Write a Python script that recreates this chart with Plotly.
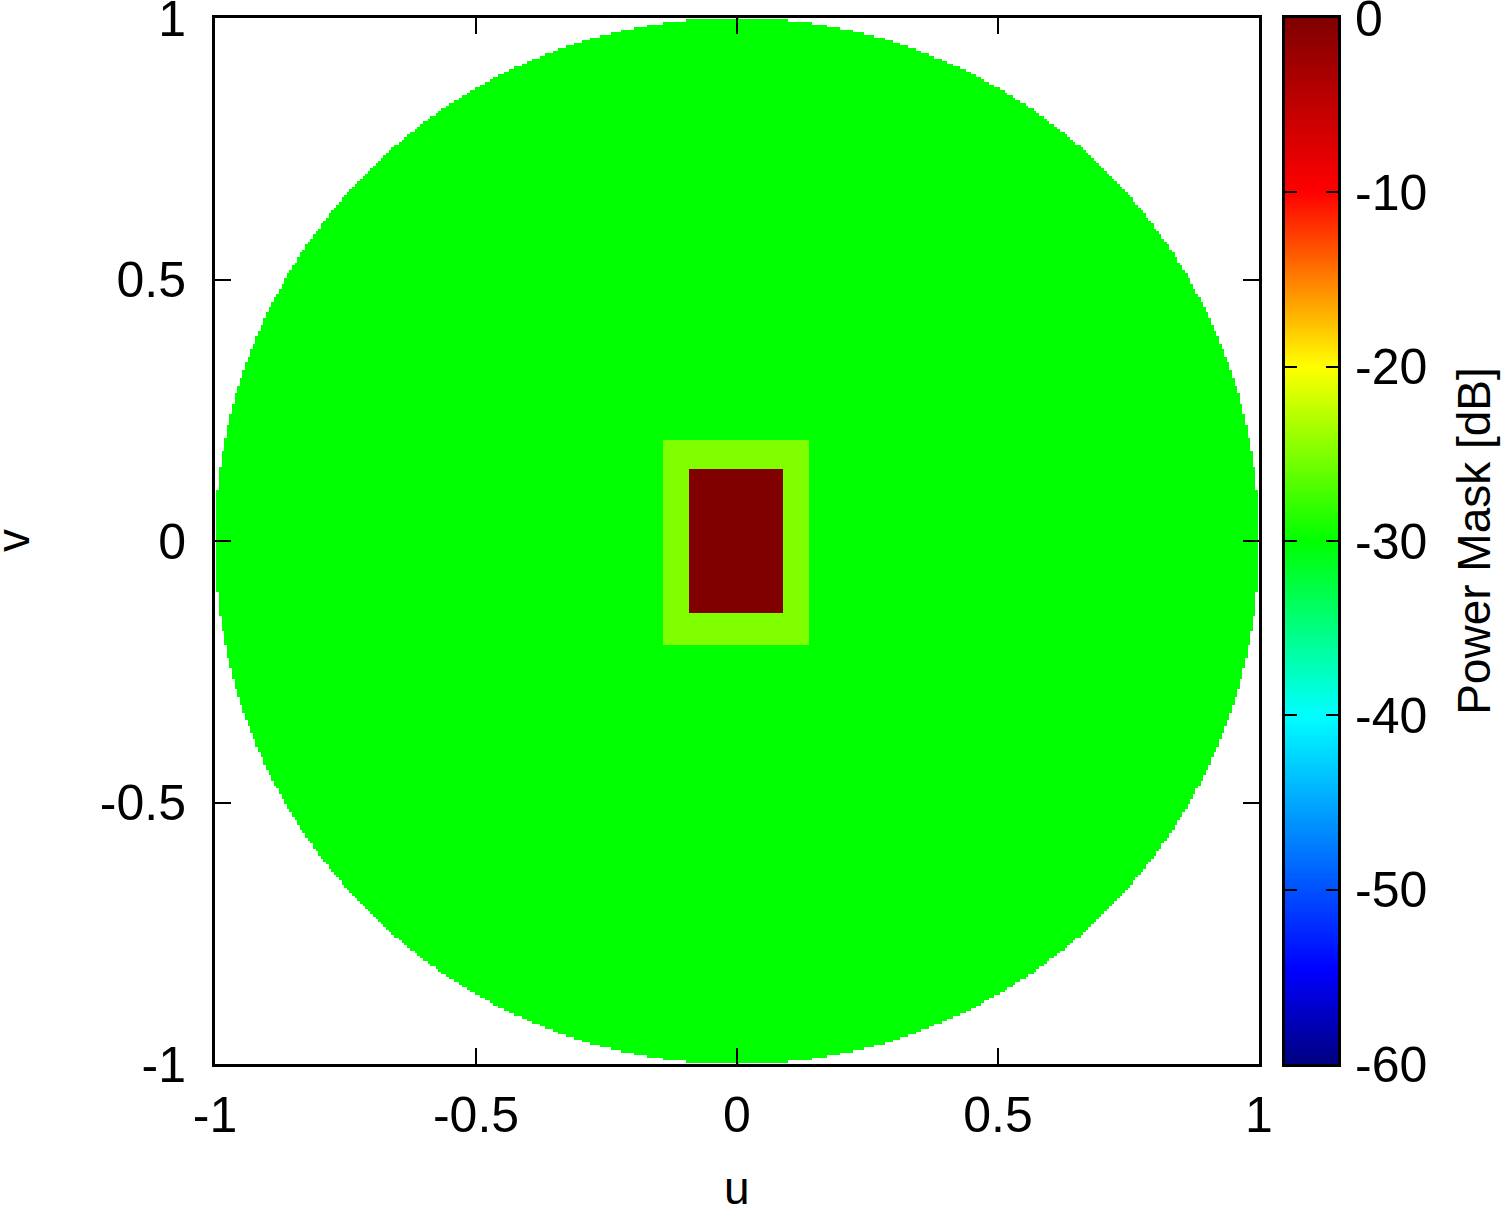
import numpy as np
import plotly.graph_objects as go

# ---- data: power mask regions (dB) ----
grid_u = np.linspace(-1, 1, 401)
grid_v = np.linspace(-1, 1, 401)
visible_level = -30.0          # inside unit circle
outer_rect_u = [-0.14, 0.135]
outer_rect_v = [-0.195, 0.19]
outer_rect_level = -25.0
inner_rect_u = [-0.09, 0.085]
inner_rect_v = [-0.135, 0.135]
inner_rect_level = 0.0
cb_min, cb_max = -60, 0
axis_ticks = [-1, -0.5, 0, 0.5, 1]
axis_ticktext = ["-1", "-0.5", "0", "0.5", "1"]
cb_ticks = [-60, -50, -40, -30, -20, -10, 0]
cb_ticktext = ["-60", "-50", "-40", "-30", "-20", "-10", "0"]

U, V = np.meshgrid(grid_u, grid_v)
Z = np.full(U.shape, np.nan)
Z[U**2 + V**2 <= 1.0] = visible_level
m = (U >= outer_rect_u[0]) & (U <= outer_rect_u[1]) & (V >= outer_rect_v[0]) & (V <= outer_rect_v[1])
Z[m] = outer_rect_level
m = (U >= inner_rect_u[0]) & (U <= inner_rect_u[1]) & (V >= inner_rect_v[0]) & (V <= inner_rect_v[1])
Z[m] = inner_rect_level

colorscale = [
    [0.0, "#000080"],
    [0.09, "#0000FF"],
    [1/3, "#00FFFF"],
    [0.5, "#00FF00"],
    [2/3, "#FFFF00"],
    [5/6, "#FF0000"],
    [1.0, "#800000"],
]

cb_vals = np.linspace(cb_min, cb_max, 601)

FONT = "Liberation Sans, Arial, Helvetica, sans-serif"

fig = go.Figure()
fig.add_trace(go.Heatmap(
    x=grid_u, y=grid_v, z=Z, zmin=cb_min, zmax=cb_max,
    colorscale=colorscale, showscale=False, zsmooth=False,
    hoverongaps=False, xaxis="x", yaxis="y"))
fig.add_trace(go.Heatmap(
    x=[0], y=cb_vals, z=cb_vals.reshape(-1, 1), zmin=cb_min, zmax=cb_max,
    colorscale=colorscale, showscale=False, xaxis="x2", yaxis="y2"))

W, H = 1501, 1208
l, t = 215, 18
b = H - 1064
r = W - 1338
pw = W - l - r
main_end = (1259 - 215) / pw
cb_start = (1285 - 215) / pw

axis_common = dict(
    showline=True, linewidth=3, linecolor="black", mirror="ticks",
    ticks="inside", ticklen=16, tickwidth=2, tickcolor="black",
    showgrid=False, zeroline=False, automargin=False,
    ticklabeloverflow="allow",
    tickfont=dict(family=FONT, size=50, color="black"),
)

fig.update_layout(
    width=W, height=H,
    margin=dict(l=l, r=r, t=t, b=b, autoexpand=False),
    paper_bgcolor="white", plot_bgcolor="white",
    font=dict(family=FONT, size=50, color="black"),
    xaxis=dict(domain=[0, main_end], range=[-1, 1], tickvals=axis_ticks, ticktext=axis_ticktext,
               ticklabelstandoff=5, anchor="y", **axis_common),
    yaxis=dict(domain=[0, 1], range=[-1, 1], tickvals=axis_ticks, ticktext=axis_ticktext,
               ticklabelstandoff=16, anchor="x", **axis_common),
    xaxis2=dict(domain=[cb_start, 1], range=[-0.5, 0.5], showline=True, linewidth=3,
                linecolor="black", mirror=True, showticklabels=False, ticks="",
                showgrid=False, zeroline=False, anchor="y2", automargin=False),
    yaxis2=dict(domain=[0, 1], range=[cb_min, cb_max], tickvals=cb_ticks, ticktext=cb_ticktext,
                side="right", anchor="x2", automargin=False, ticklabeloverflow="allow",
                title=dict(text="Power Mask [dB]", font=dict(family=FONT, size=46), standoff=32),
                ticklabelstandoff=4,
                showline=True, linewidth=3, linecolor="black", mirror="ticks",
                ticks="inside", ticklen=12, tickwidth=2, tickcolor="black",
                showgrid=False, zeroline=False,
                tickfont=dict(family=FONT, size=50, color="black")),
    annotations=[
        dict(text="v", textangle=-90, xref="paper", yref="paper",
             x=0, y=0.5, xanchor="center", yanchor="middle",
             xshift=-(l - 13), showarrow=False,
             font=dict(family=FONT, size=46, color="black")),
        dict(text="u", xref="x", yref="paper",
             x=0, y=0, xanchor="center", yanchor="middle",
             yshift=-124, showarrow=False,
             font=dict(family=FONT, size=46, color="black")),
    ],
)

fig.write_html("out.html", config={"displayModeBar": False},
               post_script="document.body.style.margin='0px';document.body.style.overflow='hidden';")
